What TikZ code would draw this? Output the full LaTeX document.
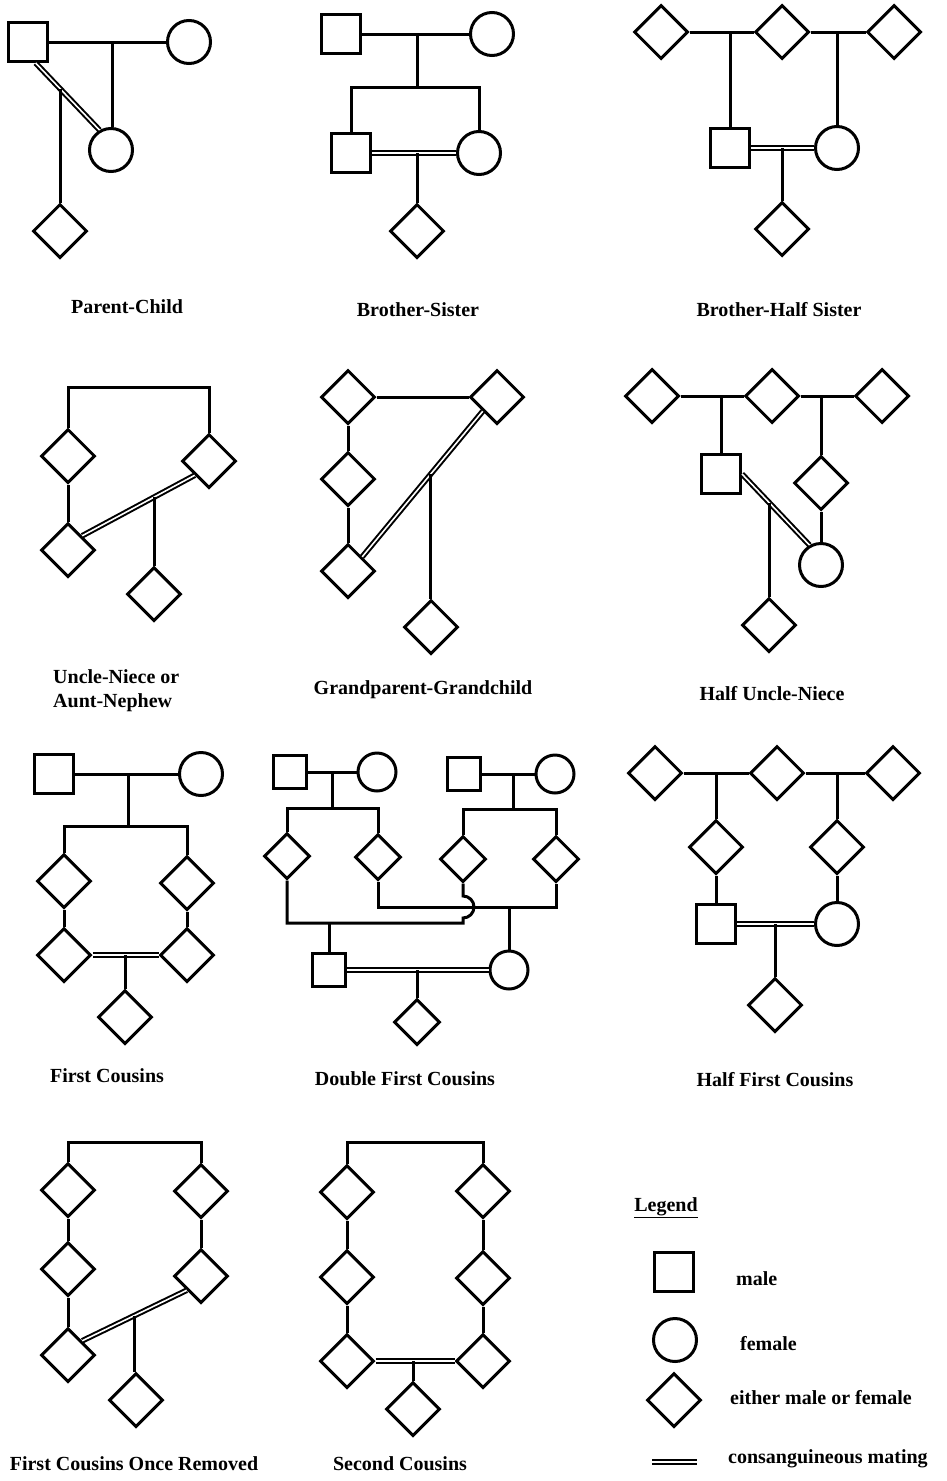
\documentclass[tikz,border=0pt]{standalone}
\usepackage{fontspec}
\setmainfont{Liberation Serif}
\usetikzlibrary{shapes.geometric,calc}
\tikzset{
  ln/.style={line width=3pt},
  male/.style={draw, line width=3pt, rectangle, minimum size=39pt, inner sep=0pt},
  female/.style={draw, line width=3pt, circle, minimum size=43pt, inner sep=0pt},
  either/.style={draw, line width=3pt, diamond, minimum size=54pt, inner sep=0pt},
  smale/.style={male, minimum size=33pt},
  sfemale/.style={female, minimum size=38pt},
  seither/.style={either, minimum size=46pt},
  mate/.style={double, line width=2pt, double distance=1.6pt},
  lbl/.style={font=\fontsize{20}{24}\selectfont\bfseries, inner sep=0pt},
}
\begin{document}
\begin{tikzpicture}[x=1pt,y=-1pt]
\useasboundingbox (0,0) rectangle (946,1481);

% ---------- Parent-Child ----------
\node[male] (a1) at (28,42) {};
\node[female] (a2) at (189,42) {};
\node[female] (a3) at (111,150) {};
\node[either] (a4) at (60,231) {};
\coordinate (a12) at (112,42);
\draw[ln] (a1.east) -- (a2.west);
\draw[ln] (a12) -- (a12 |- a3.north);
\draw[mate] (a1.-70) -- (a3.120);
\path (a1.-70) -- (a3.120) coordinate[pos=0.39] (am);
\draw[ln] (am) -- (am |- a4.north);
\node[lbl] (t1) at (127,307) {Parent-Child};

% ---------- Brother-Sister ----------
\node[male] (b1) at (341,34) {};
\node[female] (b2) at (492,34) {};
\node[male] (b3) at (351,153) {};
\node[female] (b4) at (479,153) {};
\node[either] (b5) at (417,231) {};
\coordinate (b12) at (417,34);
\coordinate (bs) at (417,87);
\coordinate (b34) at (417,153);
\draw[ln] (b1.east) -- (b2.west);
\draw[ln] (b12) -- (bs);
\draw[ln] (b3.north) |- (bs) -| (b4.north);
\draw[mate] (b3.east) -- (b4.west);
\draw[ln] (b34) -- (b5.north);
\node[lbl] (t2) at (418,310) {Brother-Sister};

% ---------- Brother-Half Sister ----------
\node[either] (c1) at (661,32) {};
\node[either] (c2) at (782,32) {};
\node[either] (c3) at (894,32) {};
\node[male] (c4) at (730,148) {};
\node[female] (c5) at (837,148) {};
\node[either] (c6) at (782,229) {};
\coordinate (c12) at (730,32);
\coordinate (c23) at (837,32);
\coordinate (c45) at (782,148);
\draw[ln] (c1.east) -- (c2.west);
\draw[ln] (c2.east) -- (c3.west);
\draw[ln] (c12) -- (c4.north);
\draw[ln] (c23) -- (c5.north);
\draw[mate] (c4.east) -- (c5.west);
\draw[ln] (c45) -- (c6.north);
\node[lbl] (t3) at (779,310) {Brother-Half Sister};

% ---------- Uncle-Niece ----------
\node[either] (d1) at (68,456) {};
\node[either] (d2) at (209,461) {};
\node[either] (d3) at (68,550) {};
\node[either] (d4) at (154,594) {};
\coordinate (dt) at (140,387);
\draw[ln] (d1.north) |- (dt) -| (d2.north);
\draw[ln] (d1.south) -- (d3.north);
\draw[mate] (d3.north east) -- (d2.south west);
\path (d3.north east) -- (d2.south west) coordinate[pos=0.64] (dm);
\draw[ln] (dm) -- (dm |- d4.north);
\node[lbl, align=left, anchor=west] (t4) at (53,691) {Uncle-Niece or\\Aunt-Nephew};

% ---------- Grandparent-Grandchild ----------
\node[either] (e1) at (348,397) {};
\node[either] (e2) at (497,397) {};
\node[either] (e3) at (348,479) {};
\node[either] (e4) at (348,571) {};
\node[either] (e5) at (431,627) {};
\draw[ln] (e1.east) -- (e2.west);
\draw[ln] (e1.south) -- (e3.north);
\draw[ln] (e3.south) -- (e4.north);
\draw[mate] (e4.north east) -- (e2.south west);
\path (e4.north east) -- (e2.south west) coordinate[pos=0.57] (em);
\draw[ln] (em) -- (em |- e5.north);
\node[lbl] (t5) at (423,690) {Grandparent-Grandchild};

% ---------- Half Uncle-Niece ----------
\node[either] (f1) at (652,396) {};
\node[either] (f2) at (772,396) {};
\node[either] (f3) at (882,396) {};
\node[male] (f4) at (721,474) {};
\node[either] (f5) at (821,483) {};
\node[female] (f6) at (821,565) {};
\node[either] (f7) at (769,625) {};
\coordinate (f12) at (721,396);
\coordinate (f23) at (821,396);
\draw[ln] (f1.east) -- (f2.west);
\draw[ln] (f2.east) -- (f3.west);
\draw[ln] (f12) -- (f4.north);
\draw[ln] (f23) -- (f5.north);
\draw[ln] (f5.south) -- (f6.north);
\draw[mate] (f4.east) -- (f6.120);
\path (f4.east) -- (f6.120) coordinate[pos=0.41] (fm);
\draw[ln] (fm) -- (fm |- f7.north);
\node[lbl] (t6) at (772,694) {Half Uncle-Niece};

% ---------- First Cousins ----------
\node[male] (g1) at (54,774) {};
\node[female] (g2) at (201,774) {};
\node[either] (g3) at (64,881) {};
\node[either] (g4) at (187,883) {};
\node[either] (g5) at (64,955) {};
\node[either] (g6) at (187,955) {};
\node[either] (g7) at (125,1017) {};
\coordinate (g12) at (128,774);
\coordinate (gs) at (128,826);
\coordinate (g56) at (125,955);
\draw[ln] (g1.east) -- (g2.west);
\draw[ln] (g12) -- (gs);
\draw[ln] (g3.north) |- (gs) -| (g4.north);
\draw[ln] (g3.south) -- (g5.north);
\draw[ln] (g4.south) -- (g6.north);
\draw[mate, line width=2.4pt, double distance=1.1pt] (g5.east) -- (g6.west);
\draw[ln] (g56) -- (g7.north);
\node[lbl] (t7) at (107,1076) {First Cousins};

% ---------- Double First Cousins ----------
\node[smale] (h1) at (290,772) {};
\node[sfemale] (h2) at (377,772) {};
\node[seither] (h3) at (287,856) {};
\node[seither] (h4) at (378,857) {};
\node[smale] (h5) at (464,774) {};
\node[sfemale] (h6) at (555,774) {};
\node[seither] (h7) at (463,859) {};
\node[seither] (h8) at (556,859) {};
\node[smale] (h9) at (329,970) {};
\node[sfemale] (h10) at (509,970) {};
\node[seither] (h11) at (417,1022) {};
\coordinate (h12) at (332,772);
\coordinate (hsa) at (332,808);
\coordinate (h56) at (513,774);
\coordinate (hsb) at (513,809);
\coordinate (hj1) at (463,923);
\coordinate (hj2) at (556,907);
\coordinate (hc1) at (329,923);
\coordinate (hc2) at (509,907);
\coordinate (h910) at (417,970);
\draw[ln] (h1.east) -- (h2.west);
\draw[ln] (h12) -- (hsa);
\draw[ln] (h3.north) |- (hsa) -| (h4.north);
\draw[ln] (h5.east) -- (h6.west);
\draw[ln] (h56) -- (hsb);
\draw[ln] (h7.north) |- (hsb) -| (h8.north);
\draw[ln] (h4.south) |- (hj2) -- (h8.south);
\draw[ln] (h7.south) -- (463,896) arc[start angle=-90, end angle=90, radius=11] -- (hj1) -| (h3.south);
\draw[ln] (hc1) -- (h9.north);
\draw[ln] (hc2) -- (h10.north);
\draw[mate] (h9.east) -- (h10.west);
\draw[ln] (h910) -- (h11.north);
\node[lbl] (t8) at (405,1079) {Double First Cousins};

% ---------- Half First Cousins ----------
\node[either] (i1) at (655,773) {};
\node[either] (i2) at (777,773) {};
\node[either] (i3) at (893,773) {};
\node[either] (i4) at (716,847) {};
\node[either] (i5) at (837,847) {};
\node[male] (i6) at (716,924) {};
\node[female] (i7) at (837,924) {};
\node[either] (i8) at (775,1005) {};
\coordinate (i12) at (716,773);
\coordinate (i23) at (837,773);
\coordinate (i67) at (775,924);
\draw[ln] (i1.east) -- (i2.west);
\draw[ln] (i2.east) -- (i3.west);
\draw[ln] (i12) -- (i4.north);
\draw[ln] (i23) -- (i5.north);
\draw[ln] (i4.south) -- (i6.north);
\draw[ln] (i5.south) -- (i7.north);
\draw[mate] (i6.east) -- (i7.west);
\draw[ln] (i67) -- (i8.north);
\node[lbl] (t9) at (775,1080) {Half First Cousins};

% ---------- First Cousins Once Removed ----------
\node[either] (j1) at (68,1190) {};
\node[either] (j2) at (68,1269) {};
\node[either] (j3) at (68,1355) {};
\node[either] (j4) at (201,1191) {};
\node[either] (j5) at (201,1276) {};
\node[either] (j6) at (136,1400) {};
\coordinate (jt) at (135,1142);
\draw[ln] (j1.north) |- (jt) -| (j4.north);
\draw[ln] (j1.south) -- (j2.north);
\draw[ln] (j2.south) -- (j3.north);
\draw[ln] (j4.south) -- (j5.north);
\draw[mate] (j3.north east) -- (j5.south west);
\path (j3.north east) -- (j5.south west) coordinate[pos=0.5] (jm);
\draw[ln] (jm) -- (jm |- j6.north);
\node[lbl] (t10) at (134,1464) {First Cousins Once Removed};

% ---------- Second Cousins ----------
\node[either] (k1) at (347,1192) {};
\node[either] (k2) at (347,1277) {};
\node[either] (k3) at (347,1361) {};
\node[either] (k4) at (483,1191) {};
\node[either] (k5) at (483,1278) {};
\node[either] (k6) at (483,1361) {};
\node[either] (k7) at (413,1409) {};
\coordinate (kt) at (415,1142);
\coordinate (k36) at (413,1361);
\draw[ln] (k1.north) |- (kt) -| (k4.north);
\draw[ln] (k1.south) -- (k2.north);
\draw[ln] (k2.south) -- (k3.north);
\draw[ln] (k4.south) -- (k5.north);
\draw[ln] (k5.south) -- (k6.north);
\draw[mate] (k3.east) -- (k6.west);
\draw[ln] (k36) -- (k7.north);
\node[lbl] (t11) at (400,1464) {Second Cousins};

% ---------- Legend ----------
\node[lbl] (lg) at (666,1208) {\underline{Legend}};
\node[male] (lm) at (674,1272) {};
\node[lbl, anchor=west] (lmt) at (736,1279) {male};
\node[female] (lf) at (675,1340) {};
\node[lbl, anchor=west] (lft) at (740,1344) {female};
\node[either] (le) at (674,1400) {};
\node[lbl, anchor=west] (let) at (730,1398) {either male or female};
\coordinate (lc1) at (652,1462);
\coordinate (lc2) at (697,1462);
\draw[mate] (lc1) -- (lc2);
\node[lbl, anchor=west] (lct) at (728,1459) {consanguineous mating};
\end{tikzpicture}
\end{document}
